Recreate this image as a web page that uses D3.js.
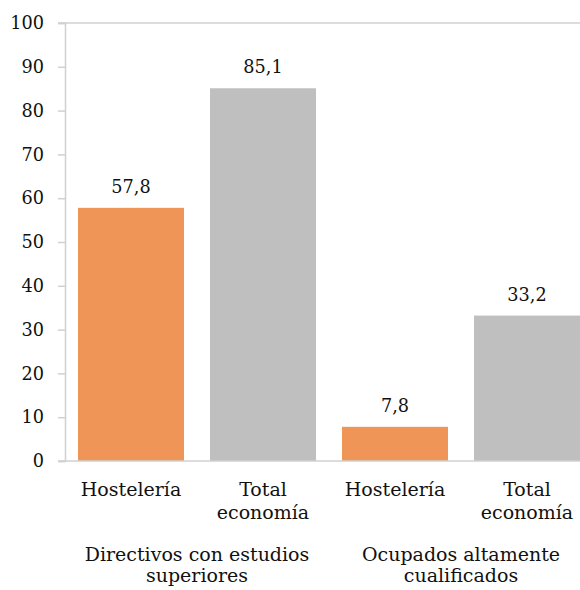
<!DOCTYPE html>
<html>
<head>
<meta charset="utf-8">
<script src="https://cdn.jsdelivr.net/npm/d3@7"></script>
<style>
  html, body { margin: 0; padding: 0; background: #fff; }
  svg { display: block; }
  text { font-family: "DejaVu Serif", serif; fill: #111; }
</style>
</head>
<body>
<svg id="chart" width="580" height="590"></svg>
<script>
// Categories (bars) and their groups
const categories = ["Hostelería", "Total economía", "Hostelería", "Total economía"];
const categoryLines = [["Hostelería"], ["Total", "economía"], ["Hostelería"], ["Total", "economía"]];
const groups = [["Directivos con estudios", "superiores"], ["Ocupados altamente", "cualificados"]];
const values = [57.8, 85.1, 7.8, 33.2];
const valueLabels = ["57,8", "85,1", "7,8", "33,2"];
const barColors = ["#F09558", "#BFBFBF", "#F09558", "#BFBFBF"];
const yTicks = [0, 10, 20, 30, 40, 50, 60, 70, 80, 90, 100];

const svg = d3.select("#chart");
const wordSize = 19;    // category and group labels
const numberSize = 17.7; // tick and value labels

const x = d3.scaleBand()
  .domain(d3.range(values.length))
  .range([65, 593])
  .paddingInner(0.197)
  .paddingOuter(0.0985);

const y = d3.scaleLinear().domain([0, 100]).range([461, 23]);

// Top border line of the plot area
svg.append("line")
  .attr("x1", 58).attr("x2", 580)
  .attr("y1", y(100)).attr("y2", y(100))
  .attr("stroke", "#d0d0d0").attr("stroke-width", 1.5);

// Bars
svg.selectAll("rect.bar")
  .data(values)
  .join("rect")
  .attr("class", "bar")
  .attr("x", (d, i) => x(i))
  .attr("width", x.bandwidth())
  .attr("y", d => y(d))
  .attr("height", d => y(0) - y(d))
  .attr("fill", (d, i) => barColors[i]);

// Y axis
const yAxis = d3.axisLeft(y)
  .tickValues(yTicks)
  .tickSize(7)
  .tickPadding(14)
  .tickFormat(d3.format("d"));

const gy = svg.append("g")
  .attr("transform", "translate(65,0)")
  .call(yAxis);
gy.select(".domain").attr("stroke", "#d0d0d0").attr("stroke-width", 1.5);
gy.selectAll(".tick line").attr("stroke", "#d0d0d0").attr("stroke-width", 1.5);
gy.selectAll(".tick text")
  .style("font-family", "DejaVu Serif, serif")
  .style("font-size", numberSize + "px")
  .attr("fill", "#111");

// Baseline
svg.append("line")
  .attr("x1", 58).attr("x2", 580)
  .attr("y1", y(0)).attr("y2", y(0))
  .attr("stroke", "#d0d0d0").attr("stroke-width", 1.5);

// Value labels
svg.selectAll("text.val")
  .data(values)
  .join("text")
  .attr("class", "val")
  .attr("x", (d, i) => x(i) + x.bandwidth() / 2)
  .attr("y", d => y(d) - 15)
  .attr("text-anchor", "middle")
  .style("font-size", numberSize + "px")
  .text((d, i) => valueLabels[i]);

// Category labels
categoryLines.forEach((lines, i) => {
  const t = svg.append("text")
    .attr("text-anchor", "middle")
    .style("font-size", wordSize + "px");
  lines.forEach((ln, j) => {
    t.append("tspan")
      .attr("x", x(i) + x.bandwidth() / 2)
      .attr("y", 496 + j * 23)
      .text(ln);
  });
});

// Group labels
groups.forEach((lines, g) => {
  const cx = (x(2 * g) + x(2 * g + 1) + x.bandwidth()) / 2;
  const t = svg.append("text")
    .attr("text-anchor", "middle")
    .style("font-size", wordSize + "px");
  lines.forEach((ln, j) => {
    t.append("tspan")
      .attr("x", cx)
      .attr("y", 561 + j * 21)
      .text(ln);
  });
});
</script>
</body>
</html>
